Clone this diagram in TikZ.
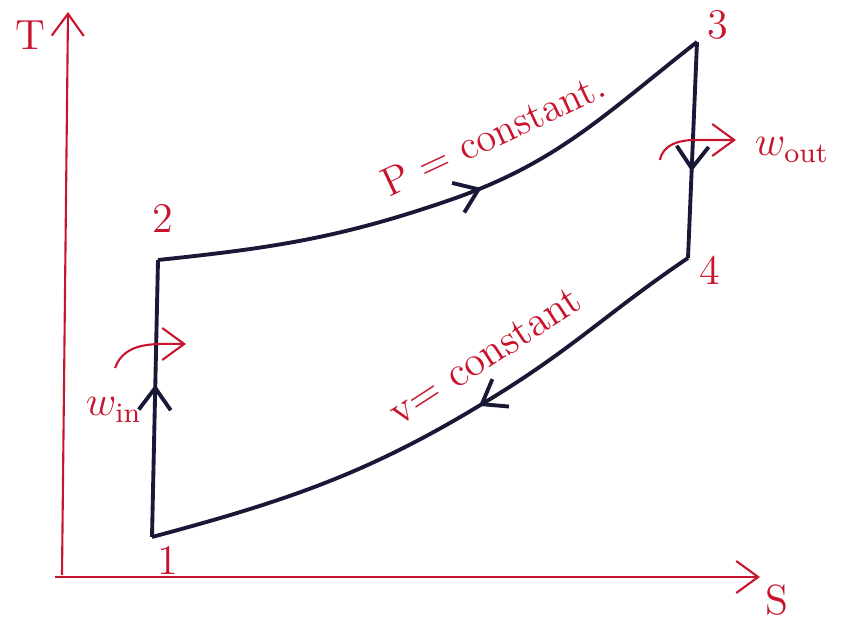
\documentclass[tikz,border=0pt]{standalone}
\usepackage{amsmath}
\usepackage{xcolor}
\usetikzlibrary{arrows.meta,decorations.markings}
\definecolor{penred}{RGB}{200,20,45}
\definecolor{ink}{RGB}{25,25,55}
\begin{document}
\begin{tikzpicture}[>={Straight Barb[length=2.2mm,width=3.2mm]},
  axis/.style={draw=penred,semithick,->},
  lbl/.style={text=penred,font=\large},
  cyc/.style={draw=ink,line width=1.1pt},
  midarrow/.style={postaction={decorate},decoration={markings,
    mark=at position #1 with {\arrow[ink,line width=1.1pt]{>}}}}]
\useasboundingbox (0,0) rectangle (8.43,6.18);
%axes
\coordinate (o) at (0.62,0.41);
\coordinate (tend) at (0.68,6.06);
\coordinate (send) at (7.60,0.41);
\draw[axis](0.62,0.43)--(tend);
\draw[axis](0.55,0.41)--(send);
\node[lbl] (tlab) at (0.30,5.83) {T};
\node[lbl] (slab) at (7.77,0.18) {S};
%state points
\coordinate (p1) at (1.52,0.81);
\coordinate (p2) at (1.58,3.58);
\coordinate (p3) at (6.97,5.76);
\coordinate (p4) at (6.88,3.60);
\coordinate (m23) at (4.50,4.18);
\coordinate (m41) at (5.00,2.25);
\node[lbl] (n1) at (1.68,0.58) {1};
\node[lbl] (n2) at (1.63,4.00) {2};
\node[lbl] (n3) at (7.18,5.93) {3};
\node[lbl] (n4) at (7.10,3.48) {4};
%cycle
\draw[cyc,midarrow=0.55](p1)--(p2);
\draw[cyc,midarrow=0.56](p2)to[out=6,in=199](m23)to[out=19,in=218](p3);
\draw[cyc,midarrow=0.6](p3)--(p4);
\draw[cyc,midarrow=0.42](p4)to[out=214,in=32](m41)to[out=212,in=15](p1);
\node[lbl,font=\fontsize{11.5}{14}\selectfont,rotate=25] (plab) at (4.93,4.84) {P = constant.};
\node[lbl,rotate=33] (vlab) at (4.85,2.62) {v= constant};
%work
\coordinate (wi1) at (1.15,2.50);
\coordinate (wi2) at (1.86,2.74);
\draw[penred,semithick,->](wi1)to[out=70,in=180](wi2);
\node[lbl] (win) at (1.14,2.08) {$w_{\text{in}}$};
\coordinate (wo1) at (6.60,4.58);
\coordinate (wo2) at (7.36,4.78);
\draw[penred,semithick,->](wo1)to[out=80,in=180](6.95,4.78)--(wo2);
\node[lbl] (wout) at (7.92,4.68) {$w_{\text{out}}$};
\end{tikzpicture}
\end{document}
